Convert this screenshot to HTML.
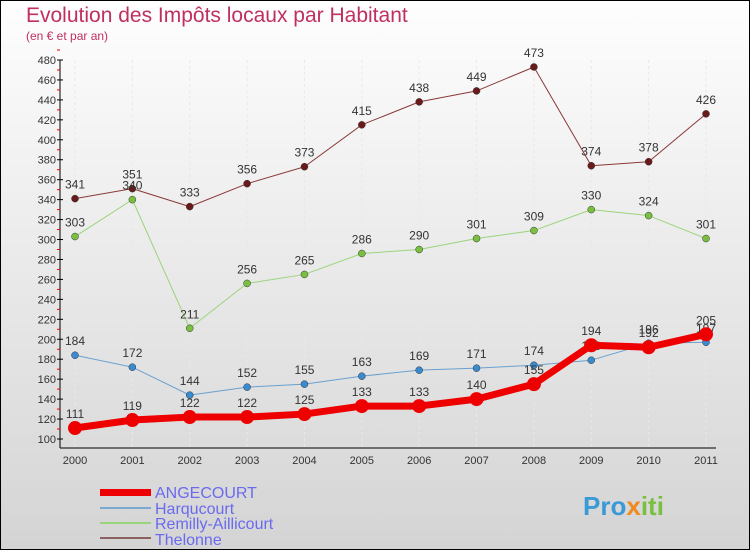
<!DOCTYPE html>
<html><head><meta charset="utf-8"><style>
body{margin:0}
#c{width:750px;height:550px;position:relative;box-sizing:border-box;border:1px solid #000;background:linear-gradient(#fefefe,#d4d4d4);font-family:"Liberation Sans",sans-serif;overflow:hidden}
</style></head><body>
<div id="c">
<svg id="s" width="750" height="550" style="position:absolute;left:-1px;top:-1px">
<text x="26" y="22" font-size="21" fill="#c0305f">Evolution des Impôts locaux par Habitant</text>
<text x="26" y="40" font-size="12" fill="#c0305f">(en € et par an)</text>
<g id="g"></g>
<g>
<rect x="100" y="489" width="51" height="7" fill="#e00"/>
<text x="155" y="498" font-size="16" fill="#6a6af0">ANGECOURT</text>
<rect x="100" y="507" width="51" height="2" fill="#7aaad0"/>
<text x="155" y="514" font-size="16" fill="#6a6af0">Harqucourt</text>
<rect x="100" y="522" width="51" height="2" fill="#9ad47a"/>
<text x="155" y="529" font-size="16" fill="#6a6af0">Remilly-Aillicourt</text>
<rect x="100" y="537" width="51" height="2" fill="#8a6060"/>
<text x="155" y="545" font-size="16" fill="#6a6af0">Thelonne</text>
</g>
<text x="583" y="515" font-size="26" font-weight="bold" fill="#3a9ad8">Pro<tspan fill="#f08a20">x</tspan><tspan fill="#7ac040">iti</tspan></text>
</svg>
</div>
<script>
const years=["2000","2001","2002","2003","2004","2005","2006","2007","2008","2009","2010","2011"];
const yTicks=[100,120,140,160,180,200,220,240,260,280,300,320,340,360,380,400,420,440,460,480];
const angecourt=[111,119,122,122,125,133,133,140,155,194,192,205];
const harqucourt=[184,172,144,152,155,163,169,171,174,179,196,197];
const remilly=[303,340,211,256,265,286,290,301,309,330,324,301];
const thelonne=[341,351,333,356,373,415,438,449,473,374,378,426];
const NS="http://www.w3.org/2000/svg";
const g=document.getElementById('g');
const X=i=>75+i*(706-75)/11;
const Y=v=>439-(v-100)*(439-60)/380;
function el(t,a){const e=document.createElementNS(NS,t);for(const k in a)e.setAttribute(k,a[k]);g.appendChild(e);return e;}
// grid
years.forEach((y,i)=>{
 const l=el('line',{x1:X(i),x2:X(i),y1:60,y2:448,stroke:'#e8e8e8','stroke-dasharray':'3,3'});
 
 
 const t=el('text',{x:X(i),y:464,'font-size':11,'text-anchor':'middle',fill:'#333'});
 t.textContent=y;
 
 
});
const ax=el('line',{x1:60,x2:60,y1:60,y2:448,stroke:'#000'});


const xa=el('line',{x1:60,x2:716,y1:448,y2:448,stroke:'#000'});


yTicks.forEach(v=>{
 const tk=el('line',{x1:57,x2:63,y1:Y(v),y2:Y(v),stroke:'#000'});
 
 
 const mt=el('line',{x1:57,x2:60,y1:Y(v+10),y2:Y(v+10),stroke:'#e00'});
 
 
 const t=el('text',{x:56,y:Y(v)+4,'font-size':11,'text-anchor':'end',fill:'#333'});
 t.textContent=v;
 
 
});
function series(data,color,w,r,dot,name){
 const p=el('polyline',{points:data.map((v,i)=>X(i)+','+Y(v)).join(' '),fill:'none',stroke:color,'stroke-width':w,'stroke-linejoin':'round'});
 
 
 data.forEach((v,i)=>{
  const c=el('circle',{cx:X(i),cy:Y(v),r:r,fill:dot,stroke:'#333','stroke-width':w>4?0:0.5});
  
  
  const t=el('text',{x:X(i),y:Y(v)-10,'font-size':12,'text-anchor':'middle',fill:'#333'});
  t.textContent=v;
  
  
 });
}
series(thelonne,'#8a3838',1,3.5,'#6a1a1a','thelonne');
series(remilly,'#9ad47a',1,3.5,'#7ac040','remilly');
series(harqucourt,'#6aa0d0',1,3.5,'#3a8ad0','harqucourt');
series(angecourt,'#e00',7,7,'#e00','angecourt');
</script>
</body></html>
